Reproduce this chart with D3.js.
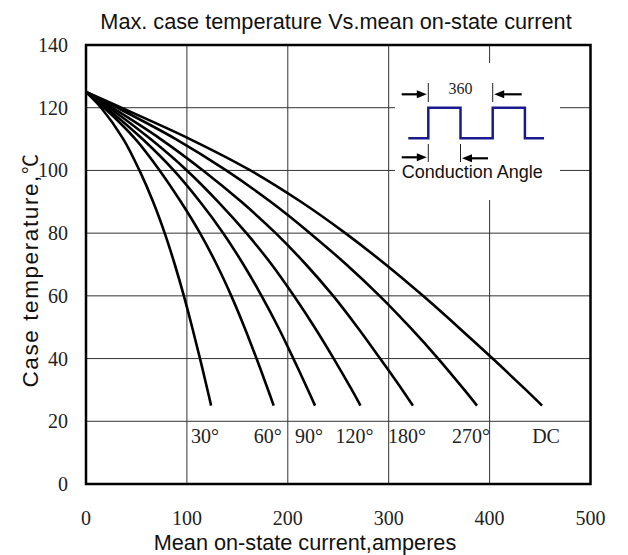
<!DOCTYPE html>
<html>
<head>
<meta charset="utf-8">
<script src="https://cdn.jsdelivr.net/npm/d3@7/dist/d3.min.js"></script>
<style>
  body { margin: 0; background: #fff; }
  .serif { font-family: "Liberation Serif", "DejaVu Serif", serif; }
  .sans { font-family: "Liberation Sans", Arial, sans-serif; }
</style>
</head>
<body>
<svg id="chart" width="628" height="555"></svg>
<script>
// values (temperature -> current for each conduction angle)
var temps   = [125, 120, 110, 100, 90, 80, 70, 60, 50, 40, 30, 25];
var amps30  = [0, 15, 37, 53, 66.5, 78, 88, 97, 105.2, 113, 120.4, 124];
var amps60  = [0, 18, 49, 73, 94, 113, 129.5, 144, 157, 169, 180.5, 186];
var amps90  = [0, 20, 56, 87, 113, 136, 156, 174, 190.5, 205.5, 220, 227];
var amps120 = [0, 23, 64, 100, 131, 159, 184, 206, 226.5, 245.5, 263.5, 272];
var amps180 = [0, 26, 74, 116, 154, 188, 218, 245, 269, 291.5, 313.5, 324];
var amps270 = [0, 31, 89, 139, 183, 222, 258, 291, 321, 349, 375, 387.5];
var ampsDC  = [0, 35, 103, 163, 213, 257, 297, 334, 369, 403, 436, 452];
var seriesLabels = ["30°", "60°", "90°", "120°", "180°", "270°", "DC"];
var seriesAmps = [amps30, amps60, amps90, amps120, amps180, amps270, ampsDC];

var xTicks = [0, 100, 200, 300, 400, 500];
var yTicks = [0, 20, 40, 60, 80, 100, 120, 140];

// inset: rectangular waveform, phase in degrees / on-off level
var wavePhase = [-112, 0, 0, 180, 180, 360, 360, 540, 540, 647];
var waveLevel = [0, 0, 1, 1, 0, 0, 1, 1, 0, 0];

var svg = d3.select("#chart");
// note: "top" is taken by window.top, so plot edges get their own names
var plotL = 86, plotR = 590.5, plotT = 45, plotB = 484;

var x = d3.scaleLinear().domain([0, 500]).range([plotL, plotR]);
var y = d3.scaleLinear().domain([0, 140]).range([plotB, plotT]);

// grid
var grid = svg.append("g").attr("stroke", "#333").attr("stroke-width", 1);
grid.selectAll("line.v").data(xTicks.slice(1, -1)).enter().append("line")
    .attr("x1", function (d) { return x(d); }).attr("x2", function (d) { return x(d); })
    .attr("y1", plotT).attr("y2", plotB);
grid.selectAll("line.h").data(yTicks.slice(1, -1)).enter().append("line")
    .attr("x1", plotL).attr("x2", plotR)
    .attr("y1", function (d) { return y(d); }).attr("y2", function (d) { return y(d); });

// tick labels
svg.append("g").attr("class", "serif").attr("font-size", 20).attr("fill", "#222")
    .selectAll("text").data(xTicks).enter().append("text")
    .attr("x", function (d) { return x(d); }).attr("y", 525)
    .attr("text-anchor", "middle").text(function (d) { return d; });
svg.append("g").attr("class", "serif").attr("font-size", 20).attr("fill", "#222")
    .selectAll("text").data(yTicks).enter().append("text")
    .attr("x", 68).attr("y", function (d) { return y(d) + 7; })
    .attr("text-anchor", "end").text(function (d) { return d; });

// curves
var line = d3.line()
    .x(function (d) { return x(d[0]); })
    .y(function (d) { return y(d[1]); })
    .curve(d3.curveCatmullRom.alpha(0.5));

svg.append("g").selectAll("path").data(seriesAmps).enter().append("path")
    .attr("d", function (amps) { return line(amps.map(function (a, i) { return [a, temps[i]]; })); })
    .attr("fill", "none").attr("stroke", "#000").attr("stroke-width", 2.6);

// curve labels, under the end of each curve
svg.append("g").attr("class", "serif").attr("font-size", 20).attr("fill", "#222")
    .selectAll("text").data(seriesLabels).enter().append("text")
    .attr("x", function (d, i) {
        var amps = seriesAmps[i];
        return x(amps[amps.length - 1]) + (d == "DC" ? 4 : -6);
    })
    .attr("y", 443).attr("text-anchor", "middle")
    .text(function (d) { return d; });

// inset with waveform
var inset = svg.append("g");
inset.append("rect").attr("x", 395).attr("y", 63).attr("width", 165).attr("height", 137).attr("fill", "#fff");

var ph = d3.scaleLinear().domain([0, 360]).range([428.3, 492.7]);
var lv = d3.scaleLinear().domain([0, 1]).range([138.3, 107.7]);
inset.append("path")
    .attr("d", d3.line().x(function (d) { return ph(d[0]); }).y(function (d) { return lv(d[1]); })(
        wavePhase.map(function (p, i) { return [p, waveLevel[i]]; })))
    .attr("fill", "none").attr("stroke", "#1a1a8e").attr("stroke-width", 2.5);

function marker(px, y1, y2) {
    inset.append("line").attr("x1", px).attr("x2", px).attr("y1", y1).attr("y2", y2)
        .attr("stroke", "#222").attr("stroke-width", 1);
}
function arrow(x1, x2, yy) {
    var dir = x2 > x1 ? 1 : -1;
    inset.append("line").attr("x1", x1).attr("x2", x2 - dir * 8).attr("y1", yy).attr("y2", yy)
        .attr("stroke", "#000").attr("stroke-width", 2.2);
    inset.append("path")
        .attr("d", "M" + x2 + "," + yy + "L" + (x2 - dir * 10) + "," + (yy - 4) + "L" + (x2 - dir * 10) + "," + (yy + 4) + "Z")
        .attr("fill", "#000");
}
marker(ph(0), 83, 102);
marker(ph(360), 83, 102);
arrow(401.7, ph(0) - 1.5, 94.3);
arrow(521.7, ph(360) + 1.5, 94.3);
inset.append("text").attr("class", "serif").attr("font-size", 16).attr("fill", "#222")
    .attr("x", ph(180)).attr("y", 94).attr("text-anchor", "middle").text("360");

marker(ph(0), 144, 162);
marker(ph(180), 144, 162);
arrow(401.7, ph(0) - 1.5, 157.3);
arrow(488, ph(180) + 1.5, 158.3);
inset.append("text").attr("class", "sans").attr("font-size", 18).attr("fill", "#111")
    .attr("x", 401.7).attr("y", 177.5).text("Conduction Angle");

// frame
svg.append("rect").attr("x", plotL).attr("y", plotT).attr("width", plotR - plotL).attr("height", plotB - plotT)
    .attr("fill", "none").attr("stroke", "#000").attr("stroke-width", 2.5);

// titles
svg.append("text").attr("class", "sans").attr("font-size", 21.7).attr("fill", "#111")
    .attr("x", 336).attr("y", 29).attr("text-anchor", "middle")
    .text("Max. case temperature Vs.mean on-state current");
svg.append("text").attr("class", "sans").attr("font-size", 21.7).attr("fill", "#111")
    .attr("x", 305).attr("y", 550).attr("text-anchor", "middle")
    .text("Mean on-state current,amperes");
var yl = svg.append("text").attr("class", "sans").attr("font-size", 22.5).attr("fill", "#111")
    .attr("letter-spacing", 1.6)
    .attr("transform", "translate(38,270) rotate(-90)").attr("text-anchor", "middle");
yl.append("tspan").text("Case temperature,");
yl.append("tspan").attr("font-family", "Noto Sans CJK SC").attr("font-size", 20).text("℃");
</script>
</body>
</html>
